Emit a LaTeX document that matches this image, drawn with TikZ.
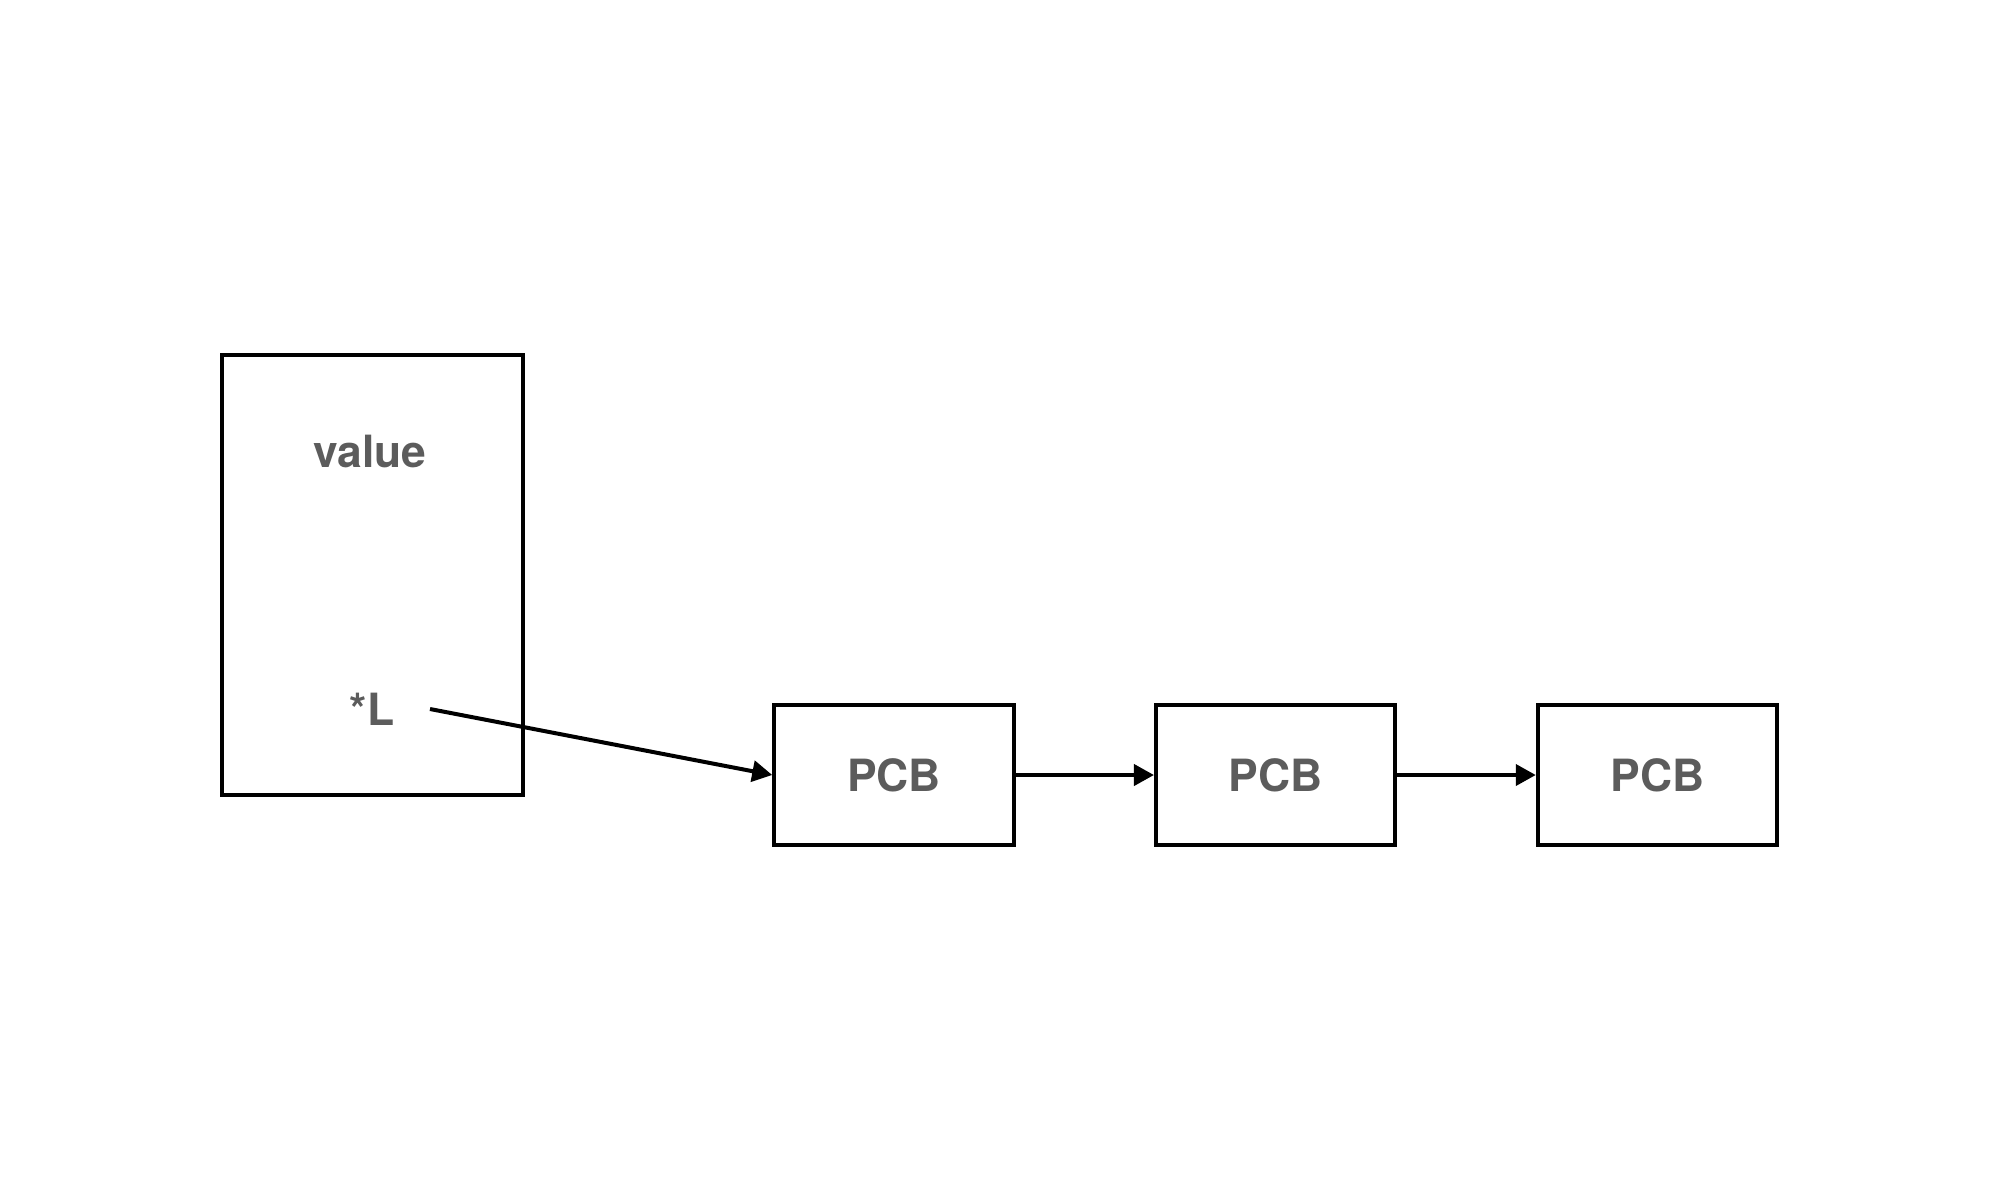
\documentclass[tikz,border=0pt]{standalone}
\usepackage{fontspec}
\setmainfont{TeX Gyre Heros}
\usetikzlibrary{arrows.meta}
\definecolor{txtgray}{HTML}{5C5C5C}
\tikzset{
  box/.style={draw=black, line width=2pt, fill=white, inner sep=0pt},
  pcb/.style={box, minimum width=119.75pt, minimum height=69.6pt},
  lbl/.style={text=txtgray, font=\fontsize{22.2}{26}\selectfont\bfseries, inner sep=0pt},
  conn/.style={draw=black, line width=2pt, -{Triangle[length=10pt,width=10.5pt]}}
}
\begin{document}
\begin{tikzpicture}[x=0.5pt, y=-0.5pt]
\useasboundingbox (0,0) rectangle (2000,1200);
\node[box, minimum width=150.35pt, minimum height=220pt] (frame) at (372.3,574.7) {};
\node[lbl, anchor=base] (value) at (370,467) {value};
\node[lbl, anchor=base] (ptr) at (372,725) {*L};
\coordinate (start) at (430,709);
\node[pcb, lbl, draw=black] (p1) at (894,775) {PCB};
\node[pcb, lbl, draw=black] (p2) at (1275.7,775) {PCB};
\node[pcb, lbl, draw=black] (p3) at (1657.5,775) {PCB};
\draw[conn] (start) -- (p1.west);
\draw[conn] (p1.east) -- (p2.west);
\draw[conn] (p2.east) -- (p3.west);
\end{tikzpicture}
\end{document}
